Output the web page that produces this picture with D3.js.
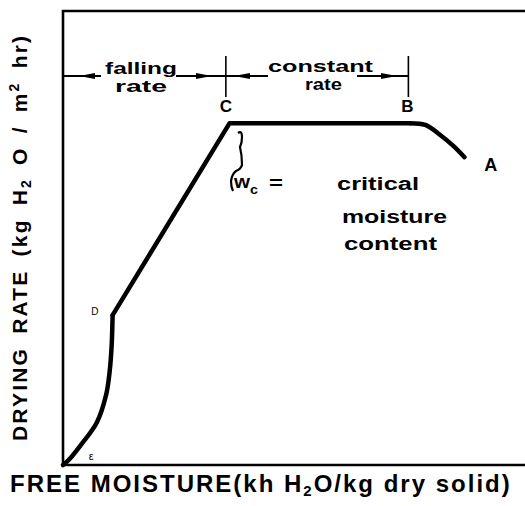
<!DOCTYPE html>
<html>
<head>
<meta charset="utf-8">
<script src="https://cdn.jsdelivr.net/npm/d3@7"></script>
<style>
  body { margin: 0; background: #fff; }
  text { font-family: "Liberation Sans", Arial, sans-serif; font-weight: bold; fill: #000; }
</style>
</head>
<body>
<div id="chart"></div>
<script>
// Drying rate curve (x = free moisture, y = drying rate)
var fallingLow  = [[0, 0], [0.006, 0.011], [0.019, 0.044], [0.036, 0.093], [0.046, 0.154],
                   [0.050, 0.209], [0.052, 0.264], [0.053, 0.330]];   // E .. D
var fallingHigh = [[0.053, 0.330], [0.178, 0.753], [0.371, 0.753]];   // D .. C .. B
var warmUp      = [[0.371, 0.753], [0.387, 0.749], [0.403, 0.727], [0.417, 0.703],
                   [0.429, 0.678]];                                   // B .. A

// point labels
var pointLabels = [
  { name: "C", x: 0.174, y: 0.778, size: 17 },
  { name: "B", x: 0.368, y: 0.778, size: 17 },
  { name: "A", x: 0.457, y: 0.648, size: 18 },
  { name: "D", x: 0.034, y: 0.33,  size: 10 },
  { name: "\u03b5", x: 0.030, y: 0.012, size: 11 }
];

// period markers (moisture where the ticks sit)
var periodTicks = [0.174, 0.369];

var width  = 525;
var height = 506;

var x = d3.scaleLinear().domain([0, 0.5]).range([63, 531]);
var y = d3.scaleLinear().domain([0, 1]).range([465, 11]);

var svg = d3.select("div#chart")
            .append("svg")
            .attr("width", width)
            .attr("height", height);

// frame: left, top and bottom only (right runs off the picture)
svg.append("path")
   .attr("d", "M" + (x(0.5) + 5) + "," + y(1) + "H" + x(0) + "V" + y(0) + "H" + (x(0.5) + 5))
   .attr("fill", "none")
   .attr("stroke", "#000")
   .attr("stroke-width", 2.6);

// the drying curve in three pieces so the straight part stays straight
var smooth = d3.line().x(function(d) { return x(d[0]); }).y(function(d) { return y(d[1]); })
               .curve(d3.curveCatmullRom);
var straight = d3.line().x(function(d) { return x(d[0]); }).y(function(d) { return y(d[1]); });

[[fallingLow, smooth], [fallingHigh, straight], [warmUp, smooth]].forEach(function(p) {
  svg.append("path")
     .attr("d", p[1](p[0]))
     .attr("fill", "none")
     .attr("stroke", "#000")
     .attr("stroke-width", 4.5)
     .attr("stroke-linejoin", "round")
     .attr("stroke-linecap", "round");
});

// point letters
svg.selectAll("text.pt")
   .data(pointLabels)
   .enter()
   .append("text")
   .attr("class", "pt")
   .attr("x", function(d) { return x(d.x); })
   .attr("y", function(d) { return y(d.y); })
   .attr("text-anchor", "middle")
   .style("font-size", function(d) { return d.size + "px"; })
   .style("font-weight", function(d) { return d.size < 12 ? "normal" : "bold"; })
   .text(function(d) { return d.name; });

// period arrows along the top
var arrowY = 76;
svg.selectAll("line.tick")
   .data(periodTicks)
   .enter()
   .append("line")
   .attr("x1", function(d) { return x(d); })
   .attr("x2", function(d) { return x(d); })
   .attr("y1", 56)
   .attr("y2", 97)
   .attr("stroke", "#000")
   .attr("stroke-width", 1.6);

// [from, to, where the head sits, direction]
var arrows = [
  [x(0), 101, 79, -1],
  [176, x(periodTicks[0]), 212, 1],
  [x(periodTicks[0]), 268, 234, -1],
  [357, x(periodTicks[1]), 397, 1]
];
arrows.forEach(function(a) {
  svg.append("line")
     .attr("x1", a[0]).attr("x2", a[1])
     .attr("y1", arrowY).attr("y2", arrowY)
     .attr("stroke", "#000")
     .attr("stroke-width", 1.8);
  var tip = a[2], back = a[2] - a[3] * 16;
  svg.append("path")
     .attr("d", "M" + tip + "," + arrowY + "L" + back + "," + (arrowY - 3) + "L" + back + "," + (arrowY + 3) + "Z")
     .attr("fill", "#000");
});

function label(txt, cx, cy, size, len) {
  return svg.append("text")
            .attr("x", cx)
            .attr("y", cy)
            .attr("textLength", len)
            .attr("lengthAdjust", "spacingAndGlyphs")
            .style("font-size", size + "px")
            .style("font-weight", "600")
            .text(txt);
}

label("falling", 105, 74, 17, 72);
label("rate", 115, 92, 17, 52);
label("constant", 268, 72, 17, 105);
label("rate", 305, 90, 17, 37);

// critical moisture note
svg.append("path")
   .attr("d", "M238,133 q4,-3 4,4 q0,6 -2,10 q2,8 2,18 q-1,4 -6,6 q-4,3 -5,10 q0,6 2,10")
   .attr("fill", "none")
   .attr("stroke", "#000")
   .attr("stroke-width", 2.2);

label("w", 234, 188, 19, 16);
label("c", 250, 194, 13, 8);
label("=", 269, 189, 19, 14);
label("critical", 337, 190, 18, 82);
label("moisture", 342, 223, 18, 105);
label("content", 344, 250, 18, 93);

// axis titles
var xt = svg.append("text")
            .attr("x", 10)
            .attr("y", 492)
            .style("font-size", "24px")
            .style("font-weight", "600")
            .style("letter-spacing", "2px");
xt.append("tspan").text("FREE MOISTURE(kh H");
xt.append("tspan").attr("dy", 4).style("font-size", "15px").text("2");
xt.append("tspan").attr("dy", -4).text("O/kg dry solid)");

var yt = svg.append("text")
            .attr("transform", "translate(27,441) rotate(-90)")
            .style("font-size", "21px")
            .style("font-weight", "600")
            .style("letter-spacing", "2.2px")
            .style("word-spacing", "5px");
yt.append("tspan").text("DRYING RATE (kg H");
yt.append("tspan").attr("dy", 4).style("font-size", "14px").text("2");
yt.append("tspan").attr("dy", -4).text(" O / m");
yt.append("tspan").attr("dy", -8).style("font-size", "14px").text("2");
yt.append("tspan").attr("dy", 8).text(" hr)");
</script>
</body>
</html>
